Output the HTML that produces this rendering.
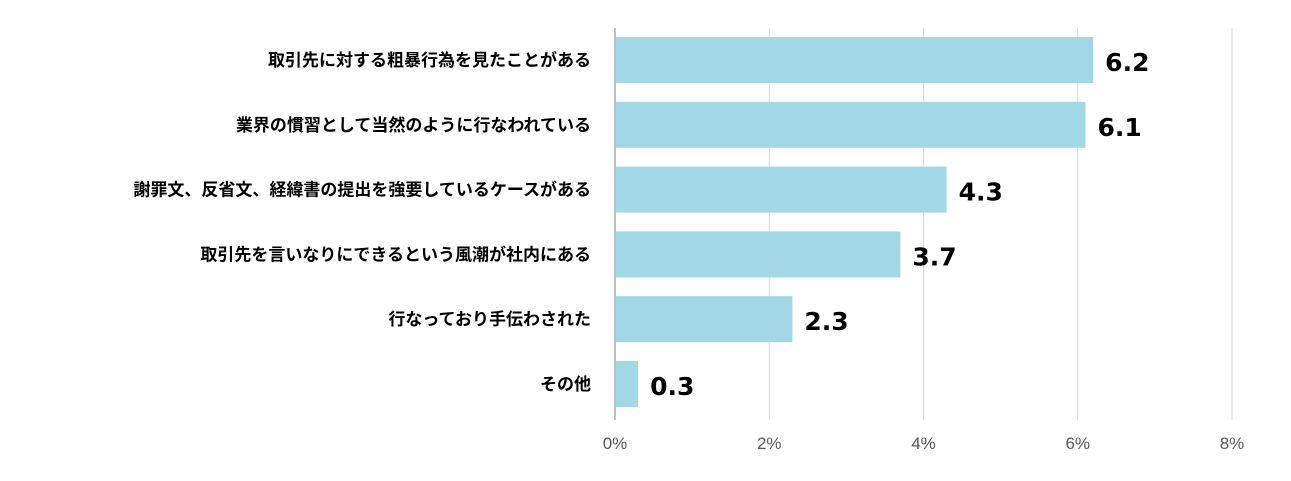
<!DOCTYPE html>
<html><head><meta charset="utf-8"><style>
body{margin:0;background:#fff;width:1291px;height:481px;overflow:hidden}
svg{display:block}
</style></head><body>
<svg id="c" width="1291" height="481" xmlns="http://www.w3.org/2000/svg"></svg>
<script>
const categories=["取引先に対する粗暴行為を見たことがある","業界の慣習として当然のように行なわれている","謝罪文、反省文、経緯書の提出を強要しているケースがある","取引先を言いなりにできるという風潮が社内にある","行なっており手伝わされた","その他"];
const values=[6.2,6.1,4.3,3.7,2.3,0.3];
const ticks=[0,2,4,6,8];
const tickLabels=["0%","2%","4%","6%","8%"];
const svgEl=document.getElementById('c');const NS="http://www.w3.org/2000/svg";
const x0=615,x1=1232,xmax=8;
const xs=v=>x0+(x1-x0)*v/xmax;
const chartTop=28,step=64.8,bh=46;
const ys=i=>chartTop+9+i*step;
function el(t,a,txt){const e=document.createElementNS(NS,t);for(const k in a)e.setAttribute(k,a[k]);if(txt!=null)e.textContent=txt;svgEl.appendChild(e);return e;}
ticks.forEach((t,i)=>{
 const g=el('line',{x1:xs(t),x2:xs(t),y1:chartTop,y2:420,stroke:i==0?'#bfbfbf':'#d9d9d9','stroke-width':i==0?2:1});
 
 
 const l=el('text',{x:xs(t),y:449,'text-anchor':'middle','font-size':17,fill:'#595959','font-family':'Liberation Sans, sans-serif'},tickLabels[i]);
 
 
});
categories.forEach((c,i)=>{
 const b=el('rect',{x:x0+1,y:ys(i),width:xs(values[i])-x0-1,height:bh,fill:'#a2d8e6'});
 
 
 const l=el('text',{x:591,y:ys(i)+bh/2+6,'text-anchor':'end','font-size':17,'font-weight':'bold',fill:'#000','font-family':'Liberation Sans, Noto Sans CJK JP, sans-serif'},c);
 
 
 const v=el('text',{x:xs(values[i])+12,y:ys(i)+bh/2+11,'font-size':25,'font-weight':'bold',fill:'#000','font-family':'DejaVu Sans, sans-serif'},values[i].toFixed(1));
 
 
});
</script>
</body></html>
